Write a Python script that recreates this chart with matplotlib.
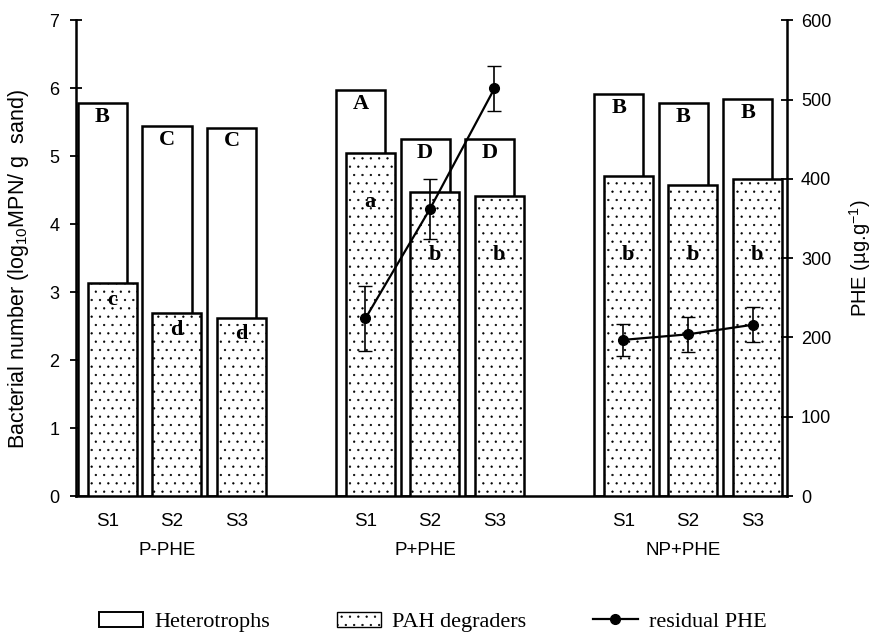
import numpy as np
import matplotlib
matplotlib.use("Agg")
import matplotlib.pyplot as plt
from matplotlib.patches import Patch
from matplotlib.lines import Line2D

# values
groups = ["P-PHE", "P+PHE", "NP+PHE"]
samples = ["S1", "S2", "S3"]
hetero = [5.78, 5.44, 5.42, 5.97, 5.25, 5.25, 5.91, 5.78, 5.84]
pah = [3.13, 2.69, 2.62, 5.04, 4.47, 4.41, 4.71, 4.58, 4.66]
hetero_letters = ["B", "C", "C", "A", "D", "D", "B", "B", "B"]
pah_letters = ["c", "d", "d", "a", "b", "b", "b", "b", "b"]
phe_p = [224, 362, 514]
phe_p_err = [41, 38, 28]
phe_np = [197, 204, 216]
phe_np_err = [20, 22, 22]

serif = "Liberation Serif"
sans = "Liberation Sans"

plt.rcParams["hatch.linewidth"] = 0.4
plt.rcParams["hatch.color"] = "#333333"
plt.rcParams["mathtext.fontset"] = "custom"
plt.rcParams["mathtext.rm"] = sans
plt.rcParams["mathtext.it"] = sans + ":italic"
plt.rcParams["mathtext.bf"] = sans + ":bold"

fig = plt.figure(figsize=(8.74, 6.32), dpi=100)
ax = fig.add_axes([0.087, 0.215, 0.8135, 0.753])

# x positions: three bars per group, groups 4 units apart
pos = np.array([g * 4 + i for g in range(3) for i in range(3)], dtype=float)
w = 0.76
off = 0.15

ax.bar(pos, hetero, width=w, color="white", edgecolor="black", linewidth=1.8, zorder=2)
ax.bar(pos + off, pah, width=w, color="white", edgecolor="black", linewidth=1.8,
       hatch="..", zorder=3)

for x, h, t in zip(pos, hetero, hetero_letters):
    ax.text(x, h - 0.2, t, ha="center", va="center", fontsize=16,
            fontweight="bold", family=serif, zorder=5)
for i, (x, h, t) in enumerate(zip(pos + off, pah, pah_letters)):
    y = h - 0.24 if i < 3 else (4.33 if t == "a" else 3.55)
    ax.text(x, y, t, ha="center", va="center", fontsize=16,
            fontweight="bold", family=serif, zorder=5)

ax.set_xlim(-0.41, 10.61)
ax.set_ylim(0, 7)
ax.set_yticks(range(8))
ax.set_xticks(pos + off / 2)
ax.set_xticklabels(samples * 3, family=sans, fontsize=13.5)
ax.tick_params(axis="x", length=0, pad=12)
ax.tick_params(axis="y", direction="inout", length=8, width=1.3, labelsize=13, pad=8)
for lab in ax.get_yticklabels():
    lab.set_family(sans)
for s in ["top", "right"]:
    ax.spines[s].set_visible(False)
ax.spines["left"].set_linewidth(1.8)
ax.spines["bottom"].set_linewidth(1.8)
ax.set_ylabel("Bacterial number (log$_{10}$MPN/ g  sand)", family=sans, fontsize=15.5)
ax.yaxis.set_label_coords(-0.063, 0.477)

for g, name in enumerate(groups):
    ax.text(g * 4 + 1.0, -0.68, name, transform=ax.transData, ha="center",
            va="top", family=sans, fontsize=13.5)

ax2 = ax.twinx()
ax2.set_ylim(0, 600)
ax2.set_yticks(range(0, 601, 100))
ax2.tick_params(axis="y", direction="inout", length=8, width=1.3, labelsize=13, pad=6)
for lab in ax2.get_yticklabels():
    lab.set_family(sans)
for s in ["top", "left", "bottom"]:
    ax2.spines[s].set_visible(False)
ax2.spines["right"].set_linewidth(1.8)
ax2.set_ylabel("PHE (µg.g$^{-1}$)", family=sans, fontsize=14.5)
ax2.yaxis.set_label_coords(1.084, 0.5)

mid = pos + off / 2
ax2.errorbar(mid[3:6], phe_p, yerr=phe_p_err, color="black", marker="o",
             markersize=7, linewidth=1.6, capsize=5, elinewidth=1.2, zorder=6)
ax2.errorbar(mid[6:9], phe_np, yerr=phe_np_err, color="black", marker="o",
             markersize=7, linewidth=1.6, capsize=5, elinewidth=1.2, zorder=6)

handles = [
    Patch(facecolor="white", edgecolor="black", linewidth=1.4),
    Patch(facecolor="white", edgecolor="black", linewidth=1.0, hatch=".."),
    Line2D([0], [0], color="black", marker="o", markersize=7, linewidth=1.6),
]
fig.legend(handles, ["Heterotrophs", "PAH degraders", "residual PHE"],
           loc="center", bbox_to_anchor=(0.495, 0.016), ncol=3, frameon=False,
           prop={"family": serif, "size": 16}, columnspacing=3.0,
           handlelength=2.0, handletextpad=0.5)

fig.savefig("out.png", dpi=100)
